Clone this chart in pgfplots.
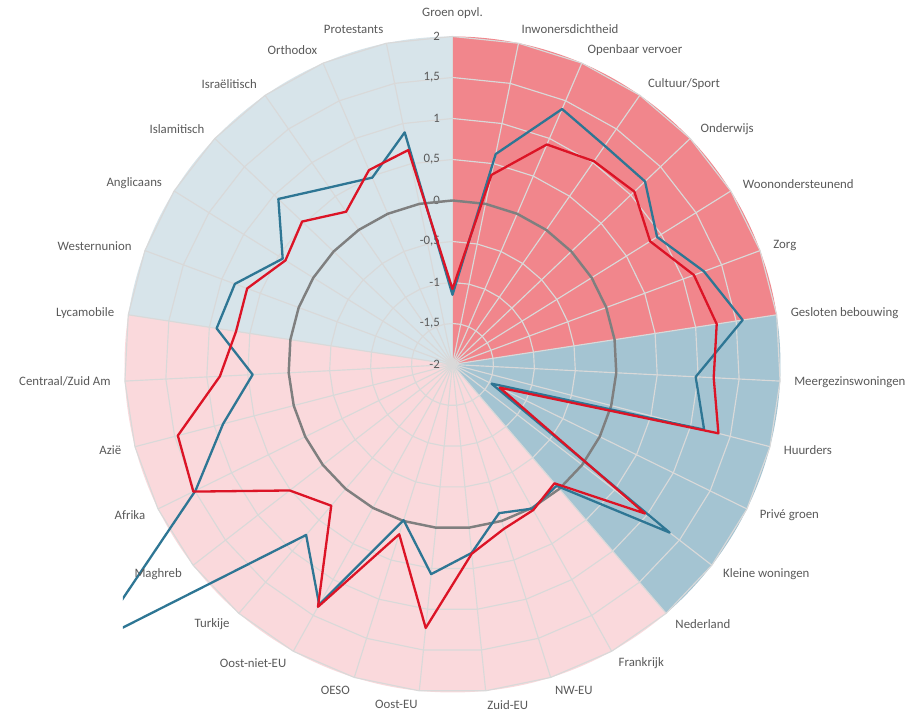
\documentclass[border=0pt]{standalone}
\usepackage{fontspec}
\setmainfont{Carlito}
\usepackage{pgfplots}
\usepackage{pgfplotstable}
\pgfplotsset{compat=1.18}
\definecolor{secred}{HTML}{F1868C}
\definecolor{secblue}{HTML}{A4C4D2}
\definecolor{secpink}{HTML}{FAD9DC}
\definecolor{seclblue}{HTML}{D7E4EA}
\definecolor{gridc}{HTML}{D9D9D9}
\definecolor{serblue}{HTML}{2E7694}
\definecolor{serred}{HTML}{DC1426}
\definecolor{ringgray}{HTML}{7F7F7F}
\definecolor{txt}{HTML}{595959}

% k = category index (clockwise from top), b = blue series, r = red series, z = zero line
\pgfplotstableread{
k  b      r      z
0  -1.15  -1.08  0
1   0.62   0.36  0
2   1.39   0.92  0
3   1.25   1.02  0
4   1.24   1.06  0
5   0.94   0.84  0
6   1.27   1.14  0
7   1.58   1.26  0
8   0.97   1.19  0
9   1.17   1.35  0
10 -1.47  -1.36  0
11  1.35   0.97  0
12 -0.05  -0.09  0
13  0.01   0.03  0
14 -0.10   0.10  0
15  0.31   0.32  0
16  0.57   1.23  0
17 -0.01   0.17  0
18  1.35   1.38  0
19  0.74   0.27  0
20  3.54   0.51  0
21  1.49   1.52  0
22  0.89   1.46  0
23  0.44   0.84  0
24  0.91   0.67  0
25  0.83   0.67  0
26  0.44   0.40  0
27  0.93   0.53  0
28  0.63   0.27  0
29  0.48   0.58  0
30  0.89   0.67  0
}\radar

\newcommand{\cat}[3]{\node[anchor=#2, inner sep=0pt, text=txt] at (axis cs:{4.17*sin(#1*360/31)},{4.17*cos(#1*360/31)}) {#3};}
\newcommand{\rtick}[2]{\node[anchor=east, inner sep=0pt, text=txt] at (axis cs:-0.15,#1) {#2};}

\begin{document}
\begin{tikzpicture}
\fontsize{8.9}{10.5}\selectfont
\begin{axis}[x=2cm, y=2cm, xmin=-4.02, xmax=4.02, ymin=-4.3, ymax=4.3,
  hide axis, clip mode=individual]
% background sectors (pie behind the radar)
\fill[secred] (axis cs:0,0) -- (axis cs:0,4) arc[start angle=90, end angle=8.7097, radius=8cm] -- cycle;
\fill[secblue] (axis cs:0,0) -- (axis cs:{4*sin(7*360/31)},{4*cos(7*360/31)}) arc[start angle=8.7097, end angle=-49.3548, radius=8cm] -- cycle;
\fill[secpink] (axis cs:0,0) -- (axis cs:{4*sin(12*360/31)},{4*cos(12*360/31)}) arc[start angle=-49.3548, end angle=-188.7097, radius=8cm] -- cycle;
\fill[seclblue] (axis cs:0,0) -- (axis cs:{4*sin(24*360/31)},{4*cos(24*360/31)}) arc[start angle=-188.7097, end angle=-270, radius=8cm] -- cycle;
% spider grid
\pgfplotsinvokeforeach{0,...,30}{
  \draw[gridc, line width=0.8pt] (axis cs:0,0) -- (axis cs:{4*sin(#1*360/31)},{4*cos(#1*360/31)});
}
\pgfplotsinvokeforeach{1,...,8}{
  \draw[gridc, line width=0.8pt, line join=round] (axis cs:0,{#1/2}) \foreach \k in {1,...,30} { -- (axis cs:{#1/2*sin(\k*360/31)},{#1/2*cos(\k*360/31)}) } -- cycle;
}
% radial tick labels
\rtick{4}{2}
\rtick{3.5}{1,5}
\rtick{3}{1}
\rtick{2.5}{0,5}
\rtick{2}{0}
\rtick{1.5}{-0,5}
\rtick{1}{-1}
\rtick{0.5}{-1,5}
\rtick{0}{-2}
% series
\addplot[ringgray, line width=1.7pt, line join=round] table[x expr={(\thisrow{z}+2)*sin(\thisrow{k}*360/31)}, y expr={(\thisrow{z}+2)*cos(\thisrow{k}*360/31)}] {\radar} -- cycle;
\addplot[serblue, line width=1.6pt, line join=round] table[x expr={(\thisrow{b}+2)*sin(\thisrow{k}*360/31)}, y expr={(\thisrow{b}+2)*cos(\thisrow{k}*360/31)}] {\radar} -- cycle;
\addplot[serred, line width=1.6pt, line join=round] table[x expr={(\thisrow{r}+2)*sin(\thisrow{k}*360/31)}, y expr={(\thisrow{r}+2)*cos(\thisrow{k}*360/31)}] {\radar} -- cycle;
% category labels
\node[anchor=south, inner sep=0pt, text=txt] at (axis cs:0,4.21) {Groen opvl.};
\cat{1}{west}{Inwonersdichtheid}
\cat{2}{west}{Openbaar vervoer}
\cat{3}{west}{Cultuur/Sport}
\cat{4}{west}{Onderwijs}
\cat{5}{west}{Woonondersteunend}
\cat{6}{west}{Zorg}
\cat{7}{west}{Gesloten bebouwing}
\cat{8}{west}{Meergezinswoningen}
\cat{9}{west}{Huurders}
\cat{10}{west}{Privé groen}
\cat{11}{west}{Kleine woningen}
\cat{12}{west}{Nederland}
\cat{13}{west}{Frankrijk}
\cat{14}{west}{NW-EU}
\cat{15}{west}{Zuid-EU}
\cat{16}{east}{Oost-EU}
\cat{17}{east}{OESO}
\cat{18}{east}{Oost-niet-EU}
\cat{19}{east}{Turkije}
\cat{20}{east}{Maghreb}
\cat{21}{east}{Afrika}
\cat{22}{east}{Azië}
\cat{23}{east}{Centraal/Zuid Am}
\cat{24}{east}{Lycamobile}
\cat{25}{east}{Westernunion}
\cat{26}{east}{Anglicaans}
\cat{27}{east}{Islamitisch}
\cat{28}{east}{Israëlitisch}
\cat{29}{east}{Orthodox}
\cat{30}{east}{Protestants}
\coordinate (bbA) at (axis cs:-5.518,-4.262);
\coordinate (bbB) at (axis cs:5.616,4.445);
\end{axis}
\pgfresetboundingbox
\path[use as bounding box] (bbA) rectangle (bbB);
\end{tikzpicture}
\end{document}
